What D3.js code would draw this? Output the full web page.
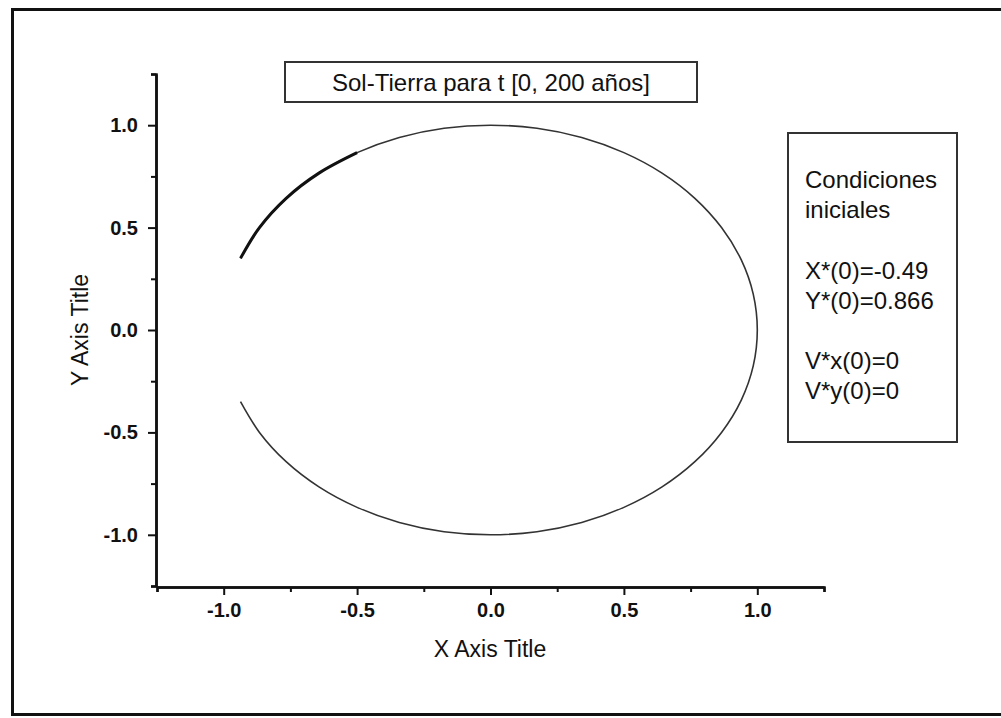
<!DOCTYPE html>
<html>
<head>
<meta charset="utf-8">
<script src="https://cdn.jsdelivr.net/npm/d3@7"></script>
<style>
  body { margin: 0; background: #fff; }
  svg { display: block; font-family: Arial, "Liberation Sans", sans-serif; }
</style>
</head>
<body>
<div id="chart"></div>
<script>
// Orbit points (from the upper gap end, clockwise to the lower gap end)
const orbitX = [-0.937, -0.866, -0.766, -0.643, -0.500, -0.342, -0.174, 0.000, 0.174, 0.342, 0.500, 0.643, 0.766, 0.866, 0.940, 0.985, 1.000,
                0.985, 0.940, 0.866, 0.766, 0.643, 0.500, 0.342, 0.174, 0.000, -0.174, -0.342, -0.500, -0.643, -0.766, -0.866, -0.937];
const orbitY = [0.350, 0.500, 0.643, 0.766, 0.866, 0.940, 0.985, 1.000, 0.985, 0.940, 0.866, 0.766, 0.643, 0.500, 0.342, 0.174, 0.000,
                -0.174, -0.342, -0.500, -0.643, -0.766, -0.866, -0.940, -0.985, -1.000, -0.985, -0.940, -0.866, -0.766, -0.643, -0.500, -0.350];
// the retraced (darker) stretch near the start point
const overlapX = [-0.937, -0.866, -0.766, -0.643, -0.500];
const overlapY = [0.350, 0.500, 0.643, 0.766, 0.866];

const majorTicks = [-1.0, -0.5, 0.0, 0.5, 1.0];
const minorTicks = [-1.25, -0.75, -0.25, 0.25, 0.75, 1.25];

const chartTitle = "Sol-Tierra para t [0, 200 años]";
const legendLines = ["Condiciones", "iniciales", "", "X*(0)=-0.49", "Y*(0)=0.866", "", "V*x(0)=0", "V*y(0)=0"];

const W = 1001, H = 718;

const svg = d3.select("#chart").append("svg")
  .attr("width", W)
  .attr("height", H);

// outer frame
svg.append("rect")
  .attr("x", 12.5).attr("y", 9.5)
  .attr("width", 1010).attr("height", 705)
  .attr("fill", "none").attr("stroke", "#111").attr("stroke-width", 3);

const x = d3.scaleLinear().domain([-1.25, 1.25]).range([157, 824]);
const y = d3.scaleLinear().domain([-1.25, 1.25]).range([586, 74]);

// tick labels use a plain hyphen like the original
const fmt = d => d.toFixed(1);

// axes: minor ticks first, then major ticks with labels
const xAxisG = svg.append("g").attr("transform", "translate(0,587)");
xAxisG.call(d3.axisBottom(x).tickValues(minorTicks).tickSize(5).tickFormat(""));
xAxisG.append("g").call(d3.axisBottom(x).tickValues(majorTicks).tickSize(8).tickSizeOuter(0).tickPadding(8).tickFormat(fmt));

const yAxisG = svg.append("g").attr("transform", "translate(156,0)");
yAxisG.call(d3.axisLeft(y).tickValues(minorTicks).tickSize(5).tickFormat(""));
yAxisG.append("g").call(d3.axisLeft(y).tickValues(majorTicks).tickSize(8).tickSizeOuter(0).tickPadding(10).tickFormat(fmt));

svg.selectAll(".domain").attr("stroke", "#111").attr("stroke-width", 2.5);
svg.selectAll(".tick line").attr("stroke", "#111").attr("stroke-width", 2);
svg.selectAll(".tick text")
  .attr("fill", "#111")
  .style("font-size", "20px")
  .style("font-weight", "bold")
  .style("font-family", "Arial, 'Liberation Sans', sans-serif");

// axis titles
svg.append("text")
  .attr("x", 490).attr("y", 657)
  .attr("text-anchor", "middle")
  .style("font-size", "23px")
  .attr("fill", "#111")
  .text("X Axis Title");

svg.append("text")
  .attr("transform", "translate(88,330) rotate(-90)")
  .attr("text-anchor", "middle")
  .style("font-size", "23px")
  .attr("fill", "#111")
  .text("Y Axis Title");

// orbit
const line = d3.line()
  .x(d => x(d[0]))
  .y(d => y(d[1]))
  .curve(d3.curveCatmullRom);

svg.append("path")
  .datum(d3.zip(orbitX, orbitY))
  .attr("d", line)
  .attr("fill", "none")
  .attr("stroke", "#333")
  .attr("stroke-width", 1.6);

svg.append("path")
  .datum(d3.zip(overlapX, overlapY))
  .attr("d", line)
  .attr("fill", "none")
  .attr("stroke", "#111")
  .attr("stroke-width", 3);

// title box
svg.append("rect")
  .attr("x", 285).attr("y", 62)
  .attr("width", 412).attr("height", 40)
  .attr("fill", "#fff").attr("stroke", "#333").attr("stroke-width", 2);

svg.append("text")
  .attr("x", 491).attr("y", 91)
  .attr("text-anchor", "middle")
  .style("font-size", "24px")
  .attr("fill", "#111")
  .text(chartTitle);

// legend box with initial conditions
svg.append("rect")
  .attr("x", 788).attr("y", 133)
  .attr("width", 169).attr("height", 309)
  .attr("fill", "#fff").attr("stroke", "#333").attr("stroke-width", 2);

svg.append("g").selectAll("text")
  .data(legendLines)
  .enter().append("text")
    .attr("x", 805)
    .attr("y", (d, i) => 188 + i * 30.2)
    .style("font-size", "24px")
    .attr("fill", "#111")
    .text(d => d);
</script>
</body>
</html>
